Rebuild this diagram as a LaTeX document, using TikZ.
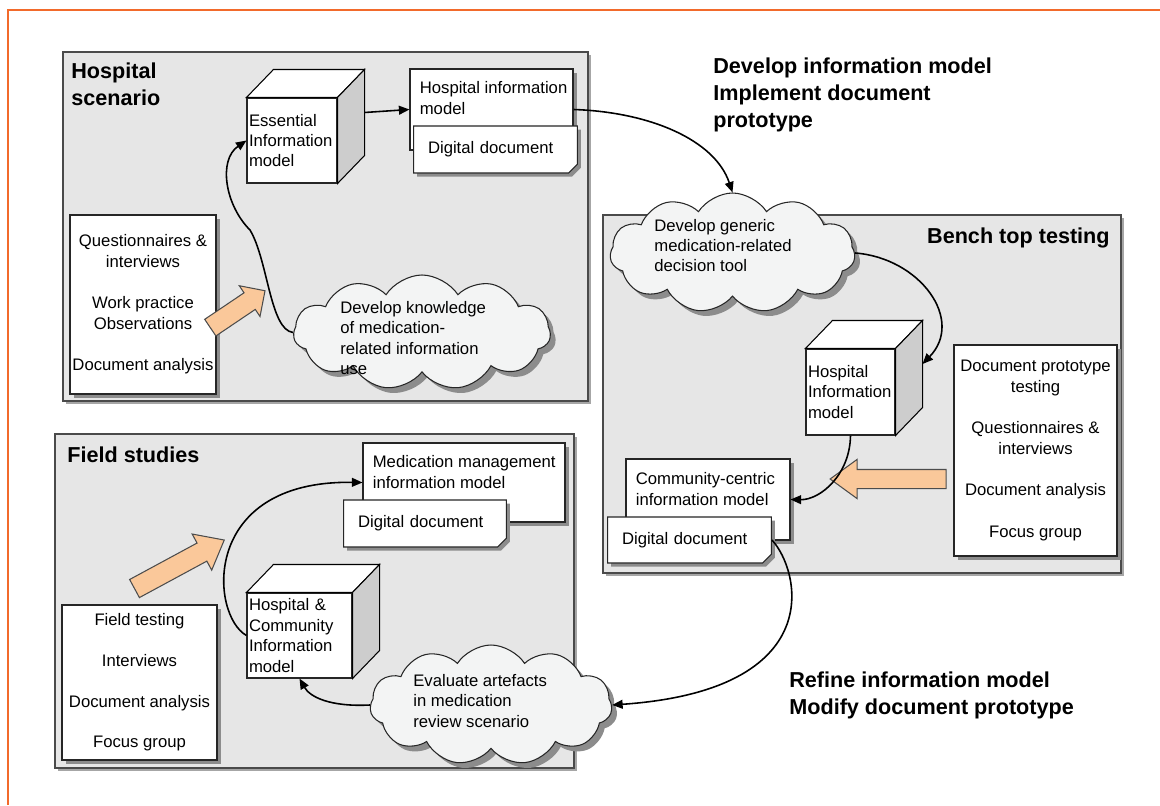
\documentclass[tikz,border=0pt]{standalone}
\usepackage{fontspec}
\setmainfont{Liberation Sans}
\usepackage{xcolor}
\usepackage{tikz}
\usetikzlibrary{arrows.meta,calc,shapes.symbols,shapes.arrows,shapes.misc,shadows}
\definecolor{frameorange}{HTML}{F26A2B}
\definecolor{panelgray}{HTML}{E6E6E6}
\definecolor{panelline}{HTML}{4A4A4A}
\definecolor{cloudgray}{HTML}{F3F4F4}
\definecolor{cubeside}{HTML}{CDCDCD}
\definecolor{peach}{HTML}{FAC89A}
\newcommand{\pxu}{0.02cm}
\newcommand{\bodyfont}{\fontsize{9.5}{11.6}\selectfont}
\newcommand{\headfont}{\fontsize{12.3}{15.4}\selectfont\bfseries}
\newcommand{\cubetop}[1]{%
  \draw[line width=0.6pt, fill=white] (#1.north west) -- ([shift={(27,-28)}]#1.north west)
    -- ([shift={(27,-28)}]#1.north east) -- (#1.north east) -- cycle;
  \draw[line width=0.6pt, fill=cubeside] (#1.north east) -- ([shift={(27,-28)}]#1.north east)
    -- ([shift={(27,-28)}]#1.south east) -- (#1.south east) -- cycle;
  \coordinate (#1-back) at ([shift={(27,-28)}]#1.east);
}

\begin{document}
\begin{tikzpicture}[x=0.02cm, y=-0.02cm,
  panel/.style={draw=panelline, line width=1pt, fill=panelgray,
    drop shadow={shadow xshift=1.6pt, shadow yshift=-1.6pt, fill=black!35, opacity=1}},
  infobox/.style={draw=black!85, line width=0.7pt, fill=white, align=center, font=\bodyfont, inner sep=0pt,
    drop shadow={shadow xshift=2pt, shadow yshift=-2pt, fill=black!45, opacity=1}},
  cubeface/.style={draw=black!85, line width=0.6pt, fill=white, align=left, font=\bodyfont,
    inner xsep=2*\pxu, inner ysep=0pt},
  docback/.style={draw=black!85, line width=0.6pt, fill=white,
    drop shadow={shadow xshift=2pt, shadow yshift=-2pt, fill=black!45, opacity=1}},
  docfront/.style={chamfered rectangle, chamfered rectangle corners=south east,
    chamfered rectangle xsep=2.5pt, chamfered rectangle ysep=2.5pt,
    draw=black!85, line width=0.6pt, fill=white, align=left, font=\bodyfont,
    inner xsep=10*\pxu, inner ysep=0pt,
    drop shadow={shadow xshift=2pt, shadow yshift=-2pt, fill=black!45, opacity=1}},
  cloudnode/.style={cloud, cloud puffs=11, cloud puff arc=115, cloud ignores aspect,
    draw=black!85, line width=0.6pt, fill=cloudgray,
    drop shadow={shadow xshift=3pt, shadow yshift=-3pt, fill=black!45, opacity=1}},
  bodytext/.style={font=\bodyfont, align=left, inner sep=0pt},
  headtext/.style={font=\headfont, align=left, inner sep=0pt},
  bigarrow/.style={single arrow, draw=black!70, line width=0.6pt, fill=peach,
    inner xsep=0pt, single arrow head indent=0pt},
  conn/.style={line width=0.9pt, -{Triangle[length=6pt,width=5pt]}}]
  \useasboundingbox (0,0) rectangle (1160,805);
  \draw[frameorange, line width=1.7pt] (8,805) -- (8,10) -- (1160,10);

  \node[panel, minimum width=525*\pxu, minimum height=349*\pxu] (hosppanel) at (325.5,226.5) {};
  \node[panel, minimum width=518*\pxu, minimum height=358*\pxu] (benchpanel) at (862,394) {};
  \node[panel, minimum width=519*\pxu, minimum height=334*\pxu] (fieldpanel) at (314.5,601) {};

  \node[headtext, anchor=north west] (hosptitle) at (71,62) {Hospital\\scenario};
  \node[headtext, anchor=base east] (benchtitle) at (1110,243) {Bench top testing};
  \node[headtext, anchor=base west] (fieldtitle) at (67,462) {Field studies};
  \node[headtext, anchor=north west] (devtitle) at (713,57) {Develop information model\\Implement document\\prototype};
  \node[headtext, anchor=north west] (refinetitle) at (789,671) {Refine information model\\Modify document prototype};

  % hospital scenario
  \node[infobox, minimum width=146*\pxu, minimum height=179*\pxu] (hospmethods) at (143,304.5)
    {Questionnaires \&\\interviews\\[12pt]Work practice\\Observations\\[12pt]Document analysis};
  \node[bigarrow, minimum height=66*\pxu, inner ysep=9.5*\pxu, single arrow head extend=8.5*\pxu,
    rotate=34] (hosparrow) at (233.5,312) {};
  \node[cubeface, text width=86*\pxu, minimum height=85*\pxu] (essmodel) at (292,140.5) {Essential\\Information\\model};
  \cubetop{essmodel}
  \node[docback, minimum width=163*\pxu, minimum height=81*\pxu] (hospmodel) at (491.5,109.5) {};
  \node[bodytext, anchor=north west] (hospmodel-t) at ([shift={(10,13)}]hospmodel.north west) {Hospital information\\model};
  \node[docfront, text width=135*\pxu, minimum height=47*\pxu] (hospdoc) at (495.5,149.5) {Digital document};
  \node[cloudnode, minimum width=257*\pxu, minimum height=115*\pxu] (knowcloud) at (422,332.5) {};
  \node[bodytext, anchor=west] (knowcloud-t) at (340,338) {Develop knowledge\\of medication-\\related information\\use};

  % bench top testing
  \node[cloudnode, minimum width=245*\pxu, minimum height=120*\pxu] (genericcloud) at (732.5,253) {};
  \node[bodytext, anchor=west] (genericcloud-t) at (654,245.5) {Develop generic\\medication-related\\decision tool};
  \node[cubeface, text width=85*\pxu, minimum height=86*\pxu] (benchmodel) at (850.5,392) {Hospital\\Information\\model};
  \cubetop{benchmodel}
  \node[infobox, minimum width=163*\pxu, minimum height=211*\pxu] (benchmethods) at (1035.5,450.5)
    {Document prototype\\testing\\[12pt]Questionnaires \&\\interviews\\[12pt]Document analysis\\[12pt]Focus group};
  \node[bigarrow, minimum height=116*\pxu, inner ysep=9*\pxu, single arrow head extend=10*\pxu,
    single arrow tip angle=72, rotate=180] (bencharrow) at (894.7,479) {};
  \node[docback, minimum width=164*\pxu, minimum height=81*\pxu] (commmodel) at (708,499.5) {};
  \node[bodytext, anchor=north west] (commmodel-t) at ([shift={(10,14)}]commmodel.north west) {Community-centric\\information model};
  \node[docfront, text width=135*\pxu, minimum height=46*\pxu] (commdoc) at (689.5,540) {Digital document};

  % field studies
  \node[infobox, minimum width=155*\pxu, minimum height=155*\pxu] (fieldmethods) at (139.5,682.5)
    {Field testing\\[11.5pt]Interviews\\[11.5pt]Document analysis\\[11.5pt]Focus group};
  \node[bigarrow, minimum height=102*\pxu, inner ysep=9.75*\pxu, single arrow head extend=10.25*\pxu,
    single arrow tip angle=78, rotate=28.4] (fieldarrow) at (173.8,567.3) {};
  \node[docback, minimum width=202*\pxu, minimum height=79*\pxu] (medmodel) at (464,482.5) {};
  \node[bodytext, anchor=north west] (medmodel-t) at ([shift={(10,13)}]medmodel.north west) {Medication management\\information model};
  \node[docfront, text width=134*\pxu, minimum height=47*\pxu] (meddoc) at (425,523.5) {Digital document};
  \node[cubeface, text width=101*\pxu, minimum height=85*\pxu] (hcmodel) at (299.5,635.5) {Hospital \&\\Community\\Information\\model};
  \cubetop{hcmodel}
  \node[cloudnode, minimum width=242*\pxu, minimum height=120*\pxu] (evalcloud) at (491,705) {};
  \node[bodytext, anchor=west] (evalcloud-t) at (413,701) {Evaluate artefacts\\in medication\\review scenario};

  \draw[conn] (knowcloud.west) .. controls (270,330) and (268,260) .. (250,230)
    .. controls (225,205) and (218,160) .. (essmodel.west);
  \draw[conn] (essmodel-back) -- (hospmodel.west);
  \draw[conn] (hospmodel.east) .. controls (650,112) and (715,140) .. (genericcloud.north);
  \draw[conn] (genericcloud.east) .. controls (920,258) and (965,320) .. (benchmodel-back);
  \draw[conn] (benchmodel.south) .. controls (850,475) and (820,500) .. (commmodel.east);
  \draw[conn] (commdoc.east) .. controls (800,570) and (830,690) .. (evalcloud.east);
  \draw[conn] (evalcloud.west) .. controls (330,707) and (310,697) .. (hcmodel.south);
  \draw[conn] (hcmodel.west) .. controls (210,615) and (200,480) .. (medmodel.west);
\end{tikzpicture}
\end{document}
